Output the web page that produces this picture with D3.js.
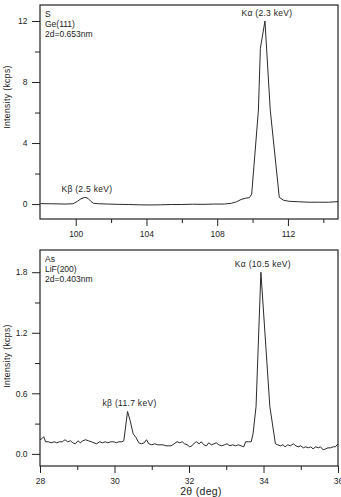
<!DOCTYPE html>
<html>
<head>
<meta charset="utf-8">
<script src="https://cdn.jsdelivr.net/npm/d3@7"></script>
<style>
  body { margin: 0; background: #fff; }
  svg text { font-family: "Liberation Sans", Arial, sans-serif; fill: #222; }
</style>
</head>
<body>
<svg id="chart" width="341" height="497"></svg>
<script>
// S K-lines, Ge(111) crystal
const sTheta = [98.0, 98.5, 99.0, 99.4, 99.85, 100.1, 100.3, 100.52, 100.7, 100.85, 101.0, 101.3, 101.8,
  102.4, 103.0, 103.6, 104.2, 104.8, 105.4, 106.0, 106.6, 107.2, 107.8, 108.4, 108.8, 109.1, 109.35,
  109.6, 109.82, 109.95, 110.33, 110.44, 110.7, 111.0, 111.51, 111.75, 112.07, 112.6, 113.2, 113.8,
  114.3, 114.83];
const sInt = [0.03, 0.02, 0.01, 0.0, 0.02, 0.18, 0.35, 0.44, 0.37, 0.18, 0.05, 0.02, 0.0,
  -0.02, -0.03, -0.05, -0.06, -0.05, -0.03, -0.03, -0.01, -0.02, 0.0, 0.0, 0.05, 0.15, 0.3,
  0.38, 0.42, 0.65, 6.16, 10.2, 12.0, 6.16, 0.44, 0.25, 0.18, 0.15, 0.12, 0.12,
  0.12, 0.16];

// As K-lines, LiF(200) crystal
const asTheta = [28.0, 28.05, 28.1, 28.15, 28.22, 28.3, 28.38, 28.45, 28.52, 28.6, 28.67, 28.74, 28.82,
  28.88, 28.95, 29.02, 29.08, 29.15, 29.22, 29.3, 29.38, 29.45, 29.52, 29.6, 29.68, 29.75, 29.82,
  29.9, 29.98, 30.05, 30.12, 30.2, 30.25, 30.35, 30.42, 30.5, 30.58, 30.65, 30.72, 30.8, 30.86,
  30.92, 31.0, 31.08, 31.15, 31.22, 31.3, 31.38, 31.45, 31.52, 31.6, 31.68, 31.75, 31.82, 31.88,
  31.95, 32.02, 32.08, 32.15, 32.2, 32.27, 32.33, 32.4, 32.47, 32.53, 32.6, 32.67, 32.73, 32.8,
  32.88, 32.95, 33.02, 33.1, 33.17, 33.25, 33.32, 33.4, 33.47, 33.52, 33.6, 33.67, 33.72, 33.8,
  33.93, 34.17, 34.32, 34.38, 34.45, 34.52, 34.58, 34.65, 34.72, 34.8, 34.87, 34.93, 35.0, 35.07,
  35.13, 35.2, 35.27, 35.33, 35.4, 35.47, 35.53, 35.6, 35.67, 35.73, 35.8, 35.87, 35.93, 36.0];
const asInt = [0.14, 0.15, 0.17, 0.12, 0.12, 0.11, 0.12, 0.11, 0.12, 0.12, 0.14, 0.12, 0.13,
  0.11, 0.1, 0.13, 0.11, 0.13, 0.14, 0.13, 0.12, 0.11, 0.1, 0.12, 0.11, 0.12, 0.11,
  0.12, 0.12, 0.11, 0.12, 0.12, 0.13, 0.42, 0.33, 0.2, 0.16, 0.11, 0.1, 0.11, 0.14,
  0.1, 0.09, 0.1, 0.09, 0.09, 0.09, 0.08, 0.08, 0.08, 0.1, 0.12, 0.11, 0.12, 0.1,
  0.09, 0.07, 0.08, 0.11, 0.12, 0.1, 0.12, 0.09, 0.08, 0.11, 0.09, 0.1, 0.11, 0.09,
  0.08, 0.09, 0.1, 0.08, 0.09, 0.08, 0.09, 0.08, 0.07, 0.12, 0.12, 0.12, 0.2, 0.47,
  1.8, 0.47, 0.1, 0.09, 0.08, 0.09, 0.07, 0.09, 0.08, 0.1, 0.08, 0.07, 0.08, 0.06,
  0.07, 0.06, 0.07, 0.05, 0.07, 0.06, 0.07, 0.04, 0.05, 0.06, 0.06, 0.07, 0.07, 0.1];

// axis limits and ticks
const sXLim = [97.98, 114.83], sYLim = [-0.98, 13.05];
const sXMajor = [100, 104, 108, 112], sXMinor = [102, 106, 110, 114];
const sYMajor = [0, 4, 8, 12], sYMinor = [2, 6, 10];
const asXLim = [28, 36], asYLim = [-0.12, 2.02];
const asXMajor = [28, 30, 32, 34, 36], asXMinor = [29, 31, 33, 35];
const asYMajor = [0, 0.6, 1.2, 1.8], asYMinor = [0.3, 0.9, 1.5];

const sInfo = ["S", "Ge(111)", "2d=0.653nm"];
const asInfo = ["As", "LiF(200)", "2d=0.403nm"];
const sPeaks = [{t: 110.7, v: 12.0, label: "K\u03b1 (2.3 keV)"}, {t: 100.52, v: 0.44, label: "K\u03b2 (2.5 keV)"}];
const asPeaks = [{t: 33.93, v: 1.8, label: "K\u03b1 (10.5 keV)"}, {t: 30.35, v: 0.42, label: "k\u03b2 (11.7 keV)"}];

const svg = d3.select('#chart');
const left = 40, right = 338;

function panel(cfg){
  const x = d3.scaleLinear().domain(cfg.xLim).range([left, right]);
  const y = d3.scaleLinear().domain(cfg.yLim).range([cfg.bottom, cfg.top]);
  const g = svg.append('g');

  const ax = (axis, ty, tx) => {
    const a = g.append('g').attr('transform', `translate(${tx || 0},${ty || 0})`).call(axis);
    a.select('.domain').remove();
    a.selectAll('line').attr('stroke', '#222').attr('stroke-width', 1);
    a.selectAll('text').attr('font-size', 8.5).attr('font-family', '"Liberation Sans", Arial, sans-serif').attr('fill', '#222');
    return a;
  };
  ax(d3.axisBottom(x).tickValues(cfg.xMajor).tickSize(7).tickPadding(4.5).tickFormat(d3.format('d')), cfg.bottom);
  ax(d3.axisBottom(x).tickValues(cfg.xMinor).tickSize(4).tickFormat(''), cfg.bottom);
  ax(d3.axisLeft(y).tickValues(cfg.yMajor).tickSize(8).tickPadding(4.5).tickFormat(cfg.yFmt), 0, left);
  ax(d3.axisLeft(y).tickValues(cfg.yMinor).tickSize(5).tickFormat(''), 0, left);

  const clipId = 'clip' + cfg.top;
  svg.append('clipPath').attr('id', clipId).append('rect')
    .attr('x', left).attr('y', cfg.top).attr('width', right - left).attr('height', cfg.bottom - cfg.top);

  const line = d3.line().x((d, i) => x(cfg.theta[i])).y(d => y(d));
  g.append('path').datum(cfg.intensity)
    .attr('clip-path', `url(#${clipId})`)
    .attr('d', line).attr('fill', 'none').attr('stroke', '#2a2a2a').attr('stroke-width', 1);

  g.append('rect').attr('x', left).attr('y', cfg.top)
    .attr('width', right - left).attr('height', cfg.bottom - cfg.top)
    .attr('fill', 'none').attr('stroke', '#222').attr('stroke-width', 1.2);

  g.selectAll('.info').data(cfg.info).enter().append('text')
    .attr('x', left + 5).attr('y', (d, i) => cfg.top + 12 + i * 10)
    .attr('font-size', 8.5).text(d => d);

  g.selectAll('.peak').data(cfg.peaks).enter().append('text')
    .attr('x', d => x(d.t) + 2).attr('y', d => y(d.v) - 5)
    .attr('text-anchor', 'middle').attr('font-size', 8.5).attr('letter-spacing', 0.3)
    .text(d => d.label);

  g.append('text')
    .attr('transform', `translate(10,${cfg.titleY}) rotate(-90)`)
    .attr('text-anchor', 'middle').attr('font-size', 8.5).attr('letter-spacing', 0.4)
    .text('Intensity (kcps)');
  return x;
}

panel({xLim: sXLim, yLim: sYLim, xMajor: sXMajor, xMinor: sXMinor, yMajor: sYMajor, yMinor: sYMinor,
  yFmt: d3.format('d'), top: 5, bottom: 219, titleY: 97, theta: sTheta, intensity: sInt, info: sInfo, peaks: sPeaks});
panel({xLim: asXLim, yLim: asYLim, xMajor: asXMajor, xMinor: asXMinor, yMajor: asYMajor, yMinor: asYMinor,
  yFmt: d3.format('.1f'), top: 250, bottom: 466, titleY: 356, theta: asTheta, intensity: asInt, info: asInfo, peaks: asPeaks});

svg.append('text').attr('x', 201).attr('y', 495).attr('text-anchor', 'middle')
  .attr('font-size', 10.5).attr('letter-spacing', 0.3).text('2\u03b8 (deg)');
</script>
</body>
</html>
